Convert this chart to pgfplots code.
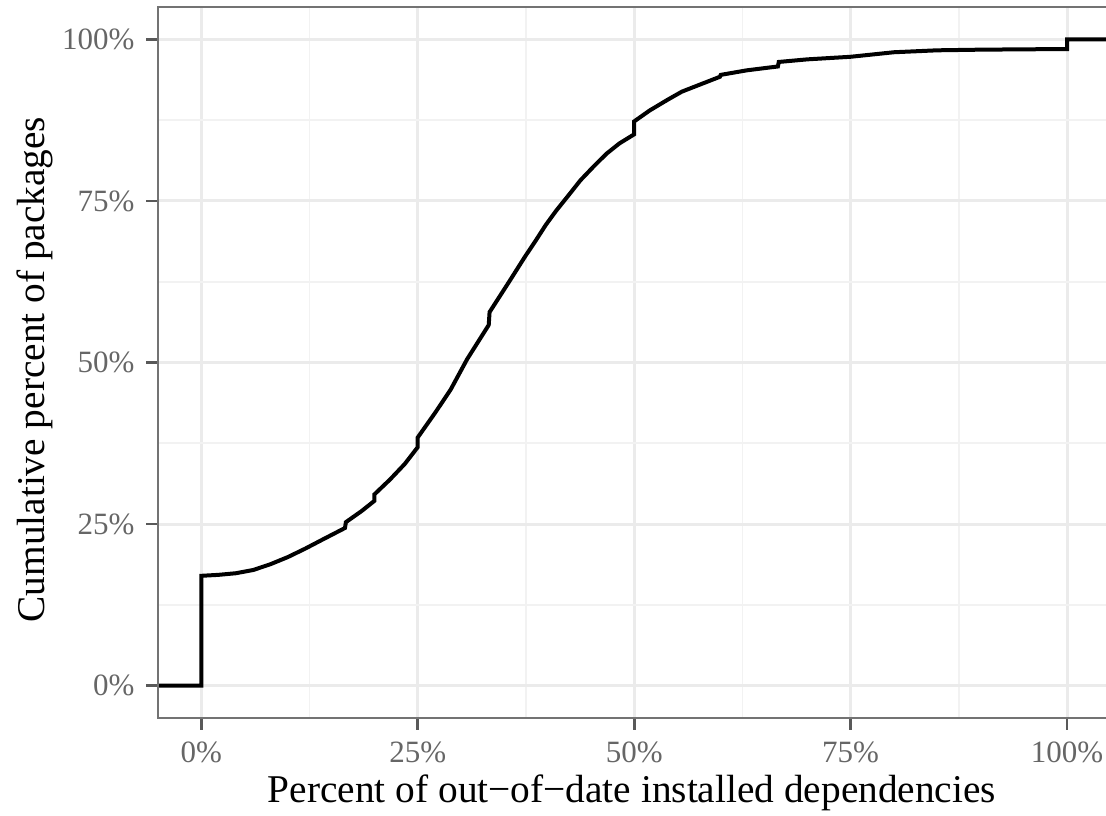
\documentclass[border=0pt]{standalone}
\usepackage{fontspec}
\setmainfont{Liberation Serif}
\usepackage{pgfplots}
\pgfplotsset{compat=1.18}
\begin{document}
\begin{tikzpicture}
\begin{axis}[
  scale only axis, width=284.4pt, height=213.3pt,
  xmin=-5, xmax=104.5, ymin=-5, ymax=105,
  clip=false,
  axis line style={draw=none},
  xtick={0,25,50,75,100}, xticklabels={0\%,25\%,50\%,75\%,100\%},
  ytick={0,25,50,75,100}, yticklabels={0\%,25\%,50\%,75\%,100\%},
  minor xtick={12.5,37.5,62.5,87.5}, minor ytick={12.5,37.5,62.5,87.5},
  grid=both,
  major grid style={color=black!8, line width=0.9pt},
  minor grid style={color=black!5, line width=0.5pt},
  xtick pos=bottom, ytick pos=left, tick align=outside,
  major tick length=3.5pt, minor tick length=0pt,
  tick style={black!65, line width=0.8pt},
  tick label style={font=\fontsize{9.3}{10}\selectfont, text=black!60},
  label style={font=\fontsize{11.8}{13}\selectfont},
  xlabel={Percent of out−of−date installed dependencies},
  ylabel={Cumulative percent of packages},
  xlabel style={at={(axis description cs:0.5,-0.1195)}, anchor=base},
  ylabel style={at={(axis description cs:-0.1297,0.49)}, anchor=center},
]
\addplot[black, line width=1.2pt] coordinates {
(-5,0) (0,0) (0,17.0) (2,17.15) (4,17.4) (6,17.9) (8,18.8) (10,19.9) (12,21.2) (14,22.6) (16.6,24.4) (16.7,25.3) (18.5,27) (20,28.6) (20,29.6) (21.8,31.9) (23.5,34.3) (25,36.9) (25,38.4) (27,42.2) (28.8,45.8) (30.7,50.5) (33.2,55.8) (33.3,57.8) (35.7,62.8) (37.4,66.4) (38.6,68.8) (39.8,71.3) (41,73.5) (42.5,76) (43.8,78.2) (45.3,80.3) (46.8,82.3) (48.3,83.9) (50,85.3) (50,87.3) (51.8,89.0) (53.8,90.6) (55.5,91.9) (57.6,93.0) (59.9,94.2) (60,94.5) (63,95.2) (66.6,95.8) (66.7,96.5) (70,96.9) (75,97.3) (80,98.0) (85,98.3) (90,98.4) (99.9,98.5) (100,98.5) (100,100) (104.5,100)
};
\draw[black!55, line width=0.8pt] (rel axis cs:1,1) -- (rel axis cs:0,1) -- (rel axis cs:0,0) -- (rel axis cs:1,0);
\end{axis}
\pgfresetboundingbox
\path[use as bounding box] ([shift={(-47.4pt,-29.1pt)}]current axis.south west) rectangle ([shift={(0pt,2.1pt)}]current axis.north east);
\end{tikzpicture}
\end{document}
